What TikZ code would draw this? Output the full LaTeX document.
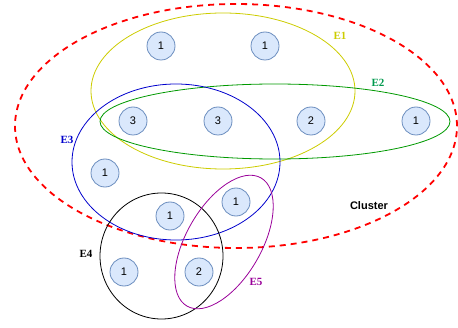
\documentclass[tikz,border=0pt]{standalone}
\usepackage{fontspec}
\setmainfont{Liberation Serif}
\setsansfont{Liberation Sans}
\usetikzlibrary{positioning}

\definecolor{vfill}{HTML}{DAE8FC}
\definecolor{vline}{HTML}{6C8EBF}
\definecolor{eone}{HTML}{CCCC00}
\definecolor{etwo}{HTML}{009900}
\definecolor{etwotext}{HTML}{00994D}
\definecolor{ethree}{HTML}{0000CC}
\definecolor{efive}{HTML}{990099}

\tikzset{
  vertex/.style={circle, draw=vline, fill=vfill, line width=0.8pt,
    minimum size=28pt, inner sep=0pt, font=\sffamily\fontsize{11}{11}\selectfont},
  edgelabel/.style={font=\bfseries\fontsize{11}{11}\selectfont},
}

\begin{document}
\begin{tikzpicture}[x=1pt, y=1pt, line width=0.8pt]
  \useasboundingbox (0,0) rectangle (458,327);

  % cluster
  \draw[red, dashed, line width=1.8pt, dash pattern=on 6pt off 5pt] (236,201) ellipse [x radius=221, y radius=122];

  % hyperedges
  \draw[eone] (223,236) ellipse [x radius=132, y radius=78];
  \draw[etwo] (275,205.5) ellipse [x radius=175, y radius=37.5];
  \draw[ethree] (176,165) ellipse [x radius=104, y radius=78];
  \draw[black] (161.5,71) ellipse [x radius=61.5, y radius=63];
  \draw[efive, rotate around={60:(224,85)}] (224,85) ellipse [x radius=74, y radius=37.5];

  % vertices
  \node[vertex] (top-a) at (161,281) {1};
  \node[vertex] (top-b) at (265,281) {1};
  \node[vertex] (mid-a) at (133,206) {3};
  \node[vertex] (mid-b) at (218,206) {3};
  \node[vertex] (mid-c) at (311,206) {2};
  \node[vertex] (mid-d) at (416,206) {1};
  \node[vertex] (left-a) at (105,154) {1};
  \node[vertex] (low-b) at (236,125) {1};
  \node[vertex] (low-a) at (170,111) {1};
  \node[vertex] (bot-a) at (124,55) {1};
  \node[vertex] (bot-b) at (199,55) {2};

  % labels
  \node[edgelabel, text=eone] (lab-e1) at (340,291) {E1};
  \node[edgelabel, text=etwotext] (lab-e2) at (378,244) {E2};
  \node[edgelabel, text=ethree] (lab-e3) at (67,187) {E3};
  \node[edgelabel] (lab-e4) at (86,73) {E4};
  \node[edgelabel, text=efive] (lab-e5) at (256,45) {E5};
  \node[font=\sffamily\bfseries\fontsize{11}{11}\selectfont] (lab-cluster) at (369,121) {Cluster};
\end{tikzpicture}
\end{document}
